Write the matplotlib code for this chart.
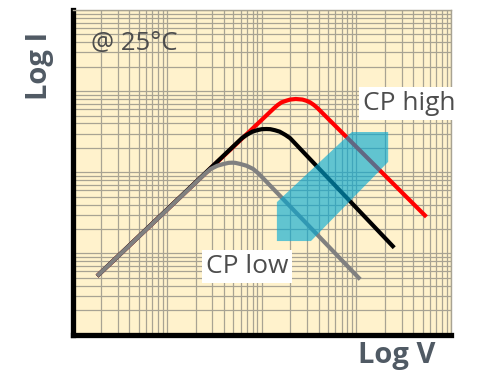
import numpy as np
import matplotlib.pyplot as plt
from matplotlib.ticker import LogLocator, NullFormatter
from matplotlib.patches import Polygon

# log10 values (x = log V, y = log I)
gray_logv = [0.26, 1.40, 1.46, 1.53, 1.59, 1.65, 1.69, 1.72, 1.78, 1.84, 1.91, 1.97, 3.04]
gray_logi = [0.72, 1.98, 2.04, 2.08, 2.10, 2.116, 2.118, 2.116, 2.10, 2.08, 2.04, 1.98, 0.68]

black_logv = [0.26, 1.79, 1.84, 1.90, 1.95, 2.00, 2.05, 2.09, 2.14, 2.19, 2.25, 2.30, 3.40]
black_logi = [0.72, 2.42, 2.46, 2.50, 2.518, 2.531, 2.533, 2.531, 2.518, 2.50, 2.46, 2.42, 1.07]

red_logv = [0.26, 2.13, 2.17, 2.21, 2.26, 2.30, 2.36, 2.43, 2.47, 2.51, 2.55, 2.59, 3.74]
red_logi = [0.72, 2.79, 2.83, 2.862, 2.882, 2.896, 2.903, 2.896, 2.882, 2.862, 2.83, 2.79, 1.45]

label_high = "CP high"
label_low = "CP low"
temp_text = "@ 25°C"

bg = "#fff2cc"
grid_col = "#a8a393"
text_col = "#4d4d4d"
axis_label_col = "#505a64"

fig = plt.figure(figsize=(5, 3.8), dpi=100)
ax = fig.add_axes([0.145, 0.1197, 0.757, 0.854])
ax.set_facecolor(bg)
ax.set_xscale("log")
ax.set_yscale("log")
ax.set_xlim(1, 1e4)
ax.set_ylim(1, 1e4)

for axis in (ax.xaxis, ax.yaxis):
    axis.set_major_locator(LogLocator(base=10, numticks=20))
    axis.set_minor_locator(LogLocator(base=10, subs=np.arange(2, 10), numticks=100))
    axis.set_minor_formatter(NullFormatter())
ax.tick_params(which="both", length=0, labelbottom=False, labelleft=False)
ax.grid(which="both", color=grid_col, lw=0.9)
ax.set_axisbelow(True)

for side in ("left", "bottom"):
    ax.spines[side].set_color("black")
    ax.spines[side].set_linewidth(3.8)
    ax.spines[side].set_capstyle("projecting")
for side in ("top", "right"):
    ax.spines[side].set_color(grid_col)
    ax.spines[side].set_linewidth(1.0)

# curves: red at the bottom, gray on top
for lv, li, col in [(red_logv, red_logi, "#ff0000"),
                    (black_logv, black_logi, "black"),
                    (gray_logv, gray_logi, "#808080")]:
    ax.plot(10 ** np.array(lv), 10 ** np.array(li), color=col, lw=3.0,
            solid_joinstyle="round", solid_capstyle="butt")

# cyan arrow band (axes fraction)
arrow_pts = [(0.540, 0.288), (0.540, 0.408), (0.738, 0.624),
             (0.834, 0.624), (0.834, 0.532), (0.630, 0.288)]
ax.add_patch(Polygon(arrow_pts, closed=True, transform=ax.transAxes,
                     facecolor="#00a8d4", edgecolor="none", alpha=0.62, zorder=5))

box = dict(boxstyle="square,pad=0.15", facecolor="white", edgecolor="none")
ax.text(0.048, 0.877, temp_text, transform=ax.transAxes, fontsize=18.5,
        family="Open Sans", color=text_col, va="baseline", ha="left")
ax.text(0.7675, 0.692, label_high, transform=ax.transAxes, fontsize=19,
        family="Open Sans", color=text_col, va="baseline", ha="left",
        bbox=box, zorder=6)
ax.text(0.3527, 0.1886, label_low, transform=ax.transAxes, fontsize=19,
        family="Open Sans", color=text_col, va="baseline", ha="left",
        bbox=box, zorder=6)

fig.text(40 / 500, 1 - 65.5 / 380, "Log I", rotation=90, fontsize=21,
         family="Open Sans", fontweight="bold", color=axis_label_col,
         ha="center", va="center")
fig.text(397 / 500, 1 - 363.3 / 380, "Log V", fontsize=21,
         family="Open Sans", fontweight="bold", color=axis_label_col,
         ha="center", va="baseline")

fig.savefig("out.png", dpi=100, facecolor="white")
